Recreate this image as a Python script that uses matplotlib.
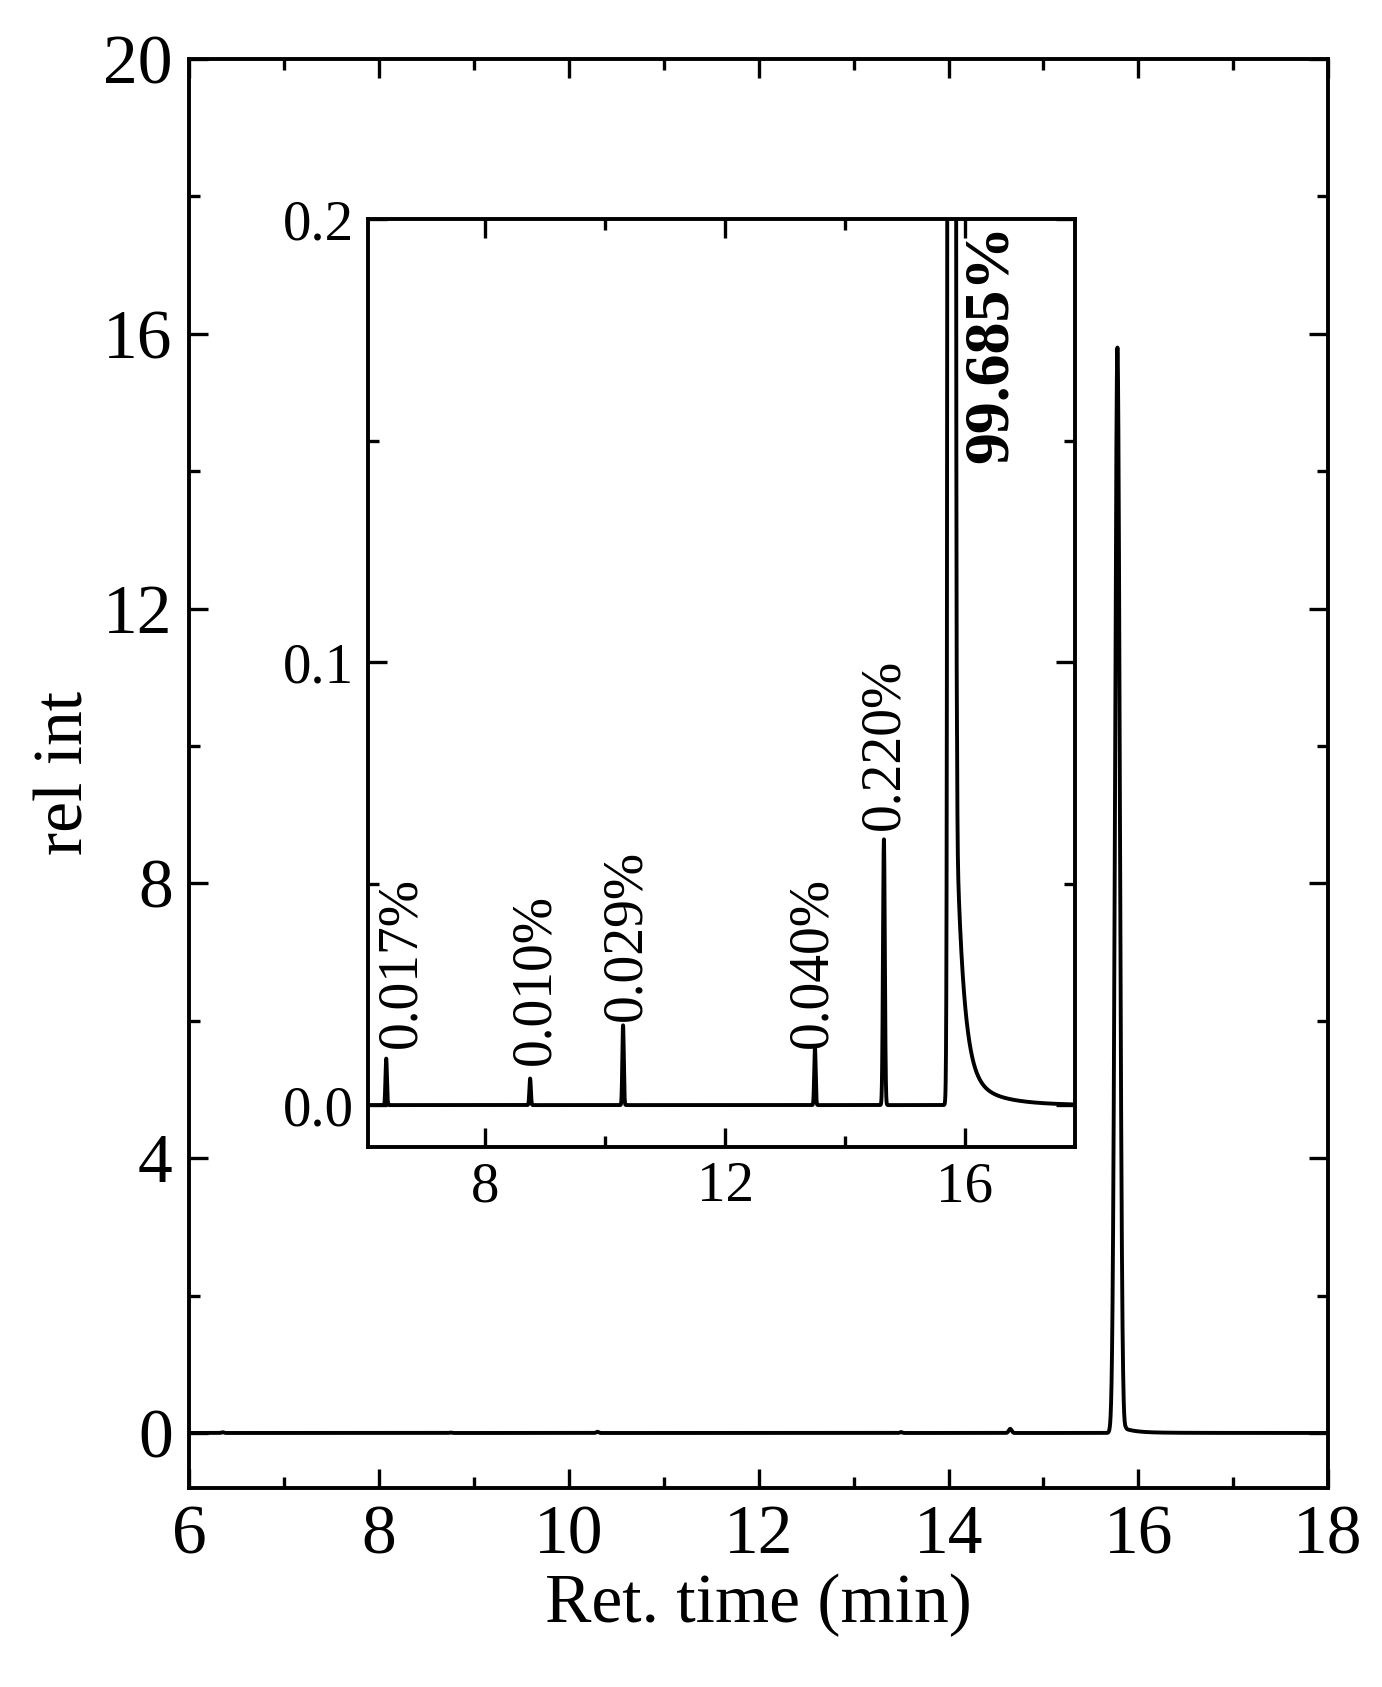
import numpy as np
import matplotlib
matplotlib.use("Agg")
import matplotlib.pyplot as plt
from matplotlib.ticker import MultipleLocator

plt.rcParams['font.family'] = ['Liberation Serif', 'DejaVu Serif']

peak_pos = [6.35, 8.75, 10.3, 13.5, 14.65, 15.78]
peak_h = [0.0105, 0.006, 0.018, 0.013, 0.060, 15.8]
peak_w = [0.012, 0.012, 0.012, 0.012, 0.015, 0.025]
tail_amp, tail_start, tail_tau = 0.06, 15.85, 0.12
tail2_amp, tail2_tau = 0.008, 0.5
labels = ['0.017%', '0.010%', '0.029%', '0.040%', '0.220%']
label_x = [6.61, 8.83, 10.36, 13.46, 14.65]
label_y = [0.013, 0.009, 0.019, 0.013, 0.062]
main_label = '99.685%'

t = np.linspace(6, 18, 12001)
y = np.zeros_like(t)
for p, h, w in zip(peak_pos, peak_h, peak_w):
    y += h * np.exp(-0.5 * ((t - p) / w) ** 2)
ramp = np.clip((t - tail_start) / 0.02, 0, 1)
tail = np.where(t > tail_start, tail_amp * np.exp(-(t - tail_start) / tail_tau)
                + tail2_amp * np.exp(-(t - tail_start) / tail2_tau), 0) * ramp
y += tail

fig = plt.figure(figsize=(13.82, 16.87), dpi=100)
ax = fig.add_axes([0.137, 0.118, 0.824, 0.847])
ax.plot(t, y, color='black', lw=2.8)
ax.set_xlim(6, 18)
ax.set_ylim(-0.8, 20)
ax.xaxis.set_major_locator(MultipleLocator(2))
ax.xaxis.set_minor_locator(MultipleLocator(1))
ax.yaxis.set_major_locator(MultipleLocator(4))
ax.yaxis.set_minor_locator(MultipleLocator(2))
ax.tick_params(which='both', direction='in', top=True, right=True, width=2.4, labelsize=50, pad=12)
ax.tick_params(which='major', length=14)
ax.tick_params(which='minor', length=8)
for s in ax.spines.values():
    s.set_linewidth(2.8)
ax.set_xlabel('Ret. time (min)', fontsize=50)
ax.set_ylabel('rel int', fontsize=50)

ins = fig.add_axes([0.266, 0.320, 0.512, 0.550])
ins.plot(t, y, color='black', lw=2.8)
ins.set_xlim(6.04, 17.84)
ins.set_ylim(-0.0095, 0.2)
ins.xaxis.set_major_locator(MultipleLocator(4))
ins.xaxis.set_minor_locator(MultipleLocator(2))
ins.yaxis.set_major_locator(MultipleLocator(0.1))
ins.yaxis.set_minor_locator(MultipleLocator(0.05))
ins.yaxis.set_major_formatter(matplotlib.ticker.FormatStrFormatter('%.1f'))
ins.tick_params(which='both', direction='in', top=True, right=True, width=2.4, labelsize=41, pad=10)
ins.tick_params(which='major', length=14)
ins.tick_params(which='minor', length=8)
for s in ins.spines.values():
    s.set_linewidth(2.8)
for lx, ly, lb in zip(label_x, label_y, labels):
    ins.text(lx, ly, lb, rotation=90, ha='center', va='bottom', fontsize=40)
ins.text(16.45, 0.199, main_label, rotation=90, ha='center', va='top', fontsize=46, fontweight='bold')

fig.savefig('out.png', dpi=100)
